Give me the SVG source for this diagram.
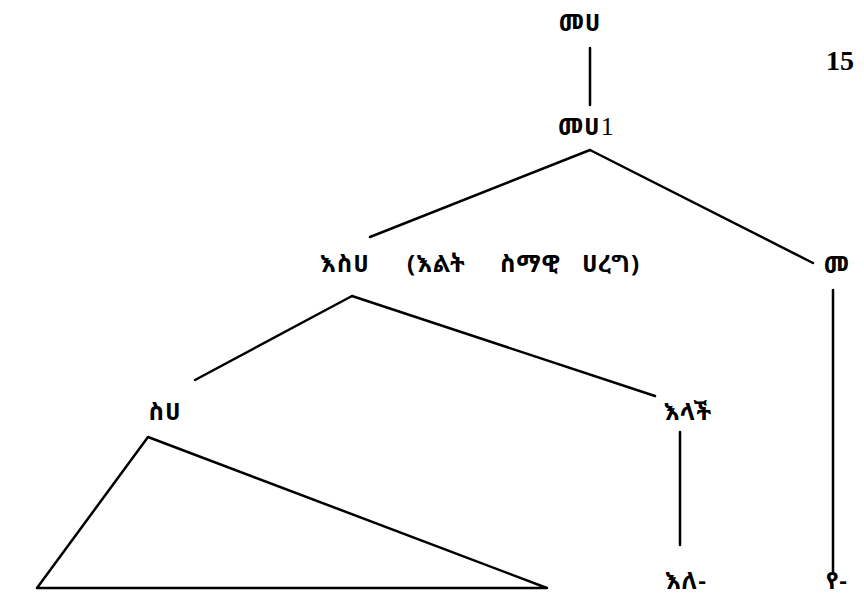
<svg xmlns="http://www.w3.org/2000/svg" width="864" height="597" viewBox="0 0 864 597">
<style>
.t{font-family:"Noto Sans Ethiopic","Abyssinica SIL","Noto Sans","DejaVu Sans",sans-serif;font-weight:bold;font-size:24px;letter-spacing:1px;fill:#000}
.n{font-family:"Liberation Serif",serif;font-weight:bold;font-size:28px;fill:#000}
.d{font-family:"Liberation Serif",serif;font-weight:normal;font-size:26px}
.l{stroke:#000;stroke-width:2.5;fill:none;stroke-linecap:round;stroke-linejoin:round}
</style>
<rect width="864" height="597" fill="#fff"/>
<g id="connectors">
<line class="l" x1="590" y1="48" x2="590" y2="105"/>
<line class="l" x1="590" y1="150" x2="370" y2="237"/>
<line class="l" x1="590" y1="150" x2="813" y2="263"/>
<line class="l" x1="833" y1="290" x2="833" y2="572"/>
<line class="l" x1="352" y1="296" x2="195" y2="380"/>
<line class="l" x1="352" y1="296" x2="655" y2="396"/>
<line class="l" x1="680" y1="432" x2="680" y2="545"/>
</g>
<g id="page-number"><text class="n" x="826" y="70">15</text></g>
<g id="n-mh"><text class="t" x="580" y="31" text-anchor="middle">መሀ</text></g>
<g id="n-mh1"><text class="t" x="558" y="135">መሀ<tspan class="d">1</tspan></text></g>
<g id="n-ish"><text class="t" x="320" y="272">እስሀ</text><text class="t" x="407" y="272">(እልት</text><text class="t" x="500" y="272">ስማዊ</text><text class="t" x="582" y="272">ሀረግ)</text></g>
<g id="n-me"><text class="t" x="837" y="273" text-anchor="middle">መ</text></g>
<g id="n-sh"><text class="t" x="165" y="420" text-anchor="middle">ስሀ</text></g>
<g id="n-ilach"><text class="t" x="688" y="420" text-anchor="middle">እላች</text></g>
<g id="n-ile"><text class="t" x="686" y="589" text-anchor="middle">እለ-</text></g>
<g id="n-ye"><text class="t" x="837" y="589" text-anchor="middle">የ-</text></g>
<g id="n-triangle"><polygon class="l" points="148,437 37,588 547,588"/></g>
</svg>
